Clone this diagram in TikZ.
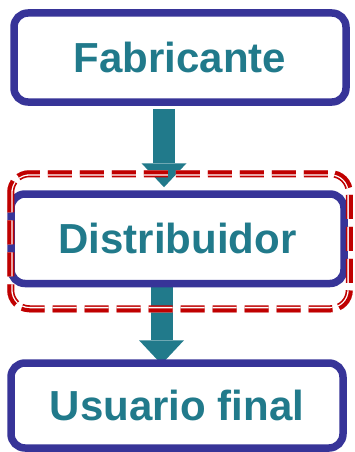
\documentclass[tikz,border=0pt]{standalone}
\usepackage{fontspec}
\setmainfont{Liberation Sans}
\usetikzlibrary{arrows.meta,backgrounds}
\definecolor{stagetext}{HTML}{217A8B}
\definecolor{stageline}{HTML}{373498}
\definecolor{framered}{HTML}{C00000}

\begin{document}
\begin{tikzpicture}[x=1pt, y=1pt,
    stage/.style={draw=stageline, line width=7.5pt, rounded corners=14pt, fill=white,
        minimum width=332pt, text=stagetext, font=\bfseries\fontsize{42}{50}\selectfont},
    flow/.style={draw=stagetext, line width=22pt,
        -{Triangle[width=45pt, length=24pt, line width=0pt, fill=stagetext]}},
    reddash/.style={dash pattern=on 24pt off 8pt, dash phase=4pt}]
    \useasboundingbox (0,0) rectangle (355,-452);

    \node[stage, minimum height=89pt] (fab) at (180,-57.5) {Fabricante};
    \node[stage, minimum width=333pt, minimum height=89.5pt] (dist) at (177.5,-238.75) {Distribuidor};
    \node[stage, minimum height=85pt] (user) at (177,-405.5) {Usuario final};

    \coordinate (fabout) at ([xshift=-16pt, yshift=-3pt]fab.south);
    \coordinate (distout) at ([xshift=-16pt, yshift=1pt]dist.south);
    \begin{pgfonlayer}{background}
        \draw[flow] (fabout) -- ([yshift=3pt]fabout |- dist.north);
        \draw[flow] (distout) -- ([yshift=-5pt]distout |- user.north);
    \end{pgfonlayer}

    \coordinate (frameNW) at ([yshift=20pt]dist.north west);
    \coordinate (frameSE) at ([xshift=5pt, yshift=-25pt]dist.south east);
    \begin{scope}
        \clip[rounded corners=22pt] (frameNW) rectangle (frameSE);
        \draw[reddash, framered, line width=14pt, rounded corners=22pt] (frameNW) rectangle (frameSE);
        \draw[reddash, white, line width=10.6pt, rounded corners=22pt] (frameNW) rectangle (frameSE);
        \draw[reddash, framered, line width=8pt, rounded corners=22pt] (frameNW) rectangle (frameSE);
    \end{scope}
\end{tikzpicture}
\end{document}
